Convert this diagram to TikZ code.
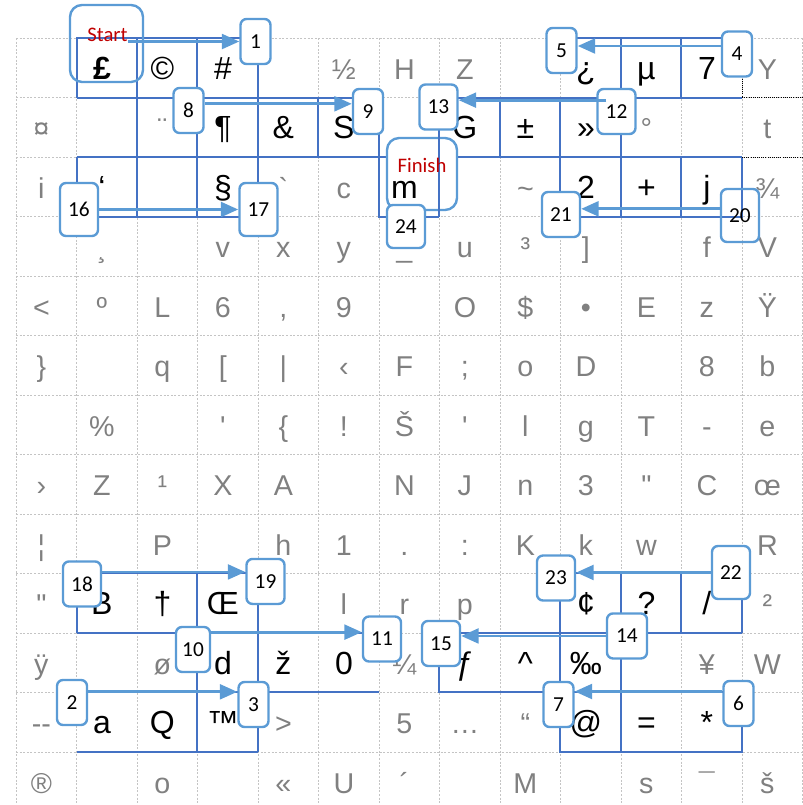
\documentclass[tikz,border=0pt]{standalone}
\usepackage{fontspec}
\setmainfont{Liberation Sans}
\newfontfamily\calfont{Carlito}
\usetikzlibrary{arrows.meta}
\definecolor{cellblue}{HTML}{4472C4}
\definecolor{boxblue}{HTML}{5B9BD5}
\definecolor{startred}{HTML}{C00000}
\definecolor{lightgrid}{HTML}{C4C4C4}
\definecolor{greytext}{HTML}{808080}
\def\comma{,}

\tikzset{
  gridline/.style={lightgrid,line width=0.6pt,dash pattern=on 1.5pt off 1.2pt},
  blockline/.style={cellblue,line width=1.5pt},
  numbox/.style={draw=boxblue,line width=1.8pt,rounded corners=4.5pt,fill=white,minimum width=22.5pt,minimum height=33.75pt,inner sep=0pt,font=\calfont\fontsize{16}{16}\selectfont},
  widebox/.style={numbox,minimum width=28.5pt},
  tallbox/.style={widebox,minimum height=39.75pt},
  endbox/.style={draw=boxblue,line width=1.8pt,rounded corners=9pt,inner sep=0pt},
  flow/.style={boxblue,line width=2.2pt,-{Triangle[length=13pt,width=11pt]}},
  greychar/.style={greytext,anchor=base,inner sep=0pt,font=\fontsize{21.5}{21.5}\selectfont},
  blackchar/.style={greychar,black,font=\fontsize{24}{24}\selectfont},
  redlabel/.style={startred,inner sep=0pt,font=\calfont\fontsize{15.5}{15.5}\selectfont}
}

\begin{document}
\begin{tikzpicture}[x=45.375pt,y=-44.625pt]
\useasboundingbox (-0.2645,-0.6387) rectangle (12.992,12.891);
\foreach \i in {0,...,13} {
  \draw[gridline] (\i,0) -- (\i,13);
  \draw[gridline] (0,\i) -- (13,\i);
}

\draw[blockline] (1,1) -- (1,0) -- (4,0);
\draw[blockline] (1,1) -- (6,1);
\draw[blockline] (2,0) -- (2,3);
\draw[blockline] (3,0) -- (3,3);
\draw[blockline] (4,0) -- (4,3);
\draw[blockline] (5,1) -- (5,2);
\draw[blockline] (6,1) -- (6,3) -- (7,3);
\draw[blockline] (1,2) -- (12,2);
\draw[blockline] (1,2) -- (1,3) -- (4,3);
\draw[blockline] (9,0) -- (12,0);
\draw[blockline] (7,1) -- (12,1);
\draw[blockline] (10,0) -- (10,3);
\draw[blockline] (11,0) -- (11,1);
\draw[blockline] (11,2) -- (11,3);
\draw[blockline] (8,1) -- (8,2);
\draw[blockline] (9,1) -- (9,3) -- (12,3) -- (12,2);
\draw[blockline] (1,10) -- (1,9) -- (4,9);
\draw[blockline] (1,10) -- (6,10);
\draw[blockline] (3,9) -- (3,12);
\draw[blockline] (4,9) -- (4,12);
\draw[blockline] (1,11) -- (6,11);
\draw[blockline] (1,12) -- (4,12);
\draw[blockline] (9,9) -- (12,9) -- (12,10);
\draw[blockline] (9,9) -- (9,12) -- (12,12) -- (12,11);
\draw[blockline] (10,9) -- (10,12);
\draw[blockline] (11,9) -- (11,10);
\draw[blockline] (7,10) -- (12,10);
\draw[blockline] (7,10) -- (7,11) -- (12,11);
\draw[densely dotted,line width=0.6pt] (12,0) -- (12,1) -- (13,1);
\draw[densely dotted,line width=0.6pt] (12,2) -- (13,2);

\node[endbox,fill=white,minimum width=52.5pt,minimum height=54pt] (finishbox) at (6.711,2.286) {};
\draw[blockline] (7,3) -- (7,1);
\node[redlabel] (finishtxt) at (6.711,2.14) {Finish};

\foreach \ro/\co/\sym in {0/5/½,0/6/H,0/7/Z,0/12/Y,
  1/0/¤,1/2/¨,1/10/°,1/12/t,
  2/0/i,2/4/\textasciigrave,2/5/c,2/8/\textasciitilde,2/12/¾,
  3/1/¸,3/3/v,3/4/x,3/5/y,3/6/\_,3/7/u,3/8/³,3/9/],3/11/f,3/12/V,
  4/0/<,4/1/º,4/2/L,4/3/6,4/4/\comma,4/5/9,4/7/O,4/8/\$,4/9/•,4/10/E,4/11/z,4/12/Ÿ,
  5/0/\},5/2/q,5/3/[,5/4/|,5/5/‹,5/6/F,5/7/;,5/8/o,5/9/D,5/11/8,5/12/b,
  6/1/\%,6/3/\textquotesingle,6/4/\{,6/5/!,6/6/Š,6/7/\textquotesingle,6/8/l,6/9/g,6/10/T,6/11/-,6/12/e,
  7/0/›,7/1/Z,7/2/¹,7/3/X,7/4/A,7/6/N,7/7/J,7/8/n,7/9/3,7/10/\textquotedbl,7/11/C,7/12/œ,
  8/0/¦,8/2/P,8/4/h,8/5/1,8/6/.,8/7/:,8/8/K,8/9/k,8/10/w,8/12/R,
  9/0/\textquotedbl,9/5/l,9/6/r,9/7/p,9/12/²,
  10/0/ÿ,10/2/ø,10/6/¼,10/11/¥,10/12/W,
  11/0/{-}{-},11/4/>,11/6/5,11/7/…,11/8/“,
  12/0/®,12/2/o,12/4/«,12/5/U,12/6/´,12/8/M,12/10/s,12/11/¯,12/12/š}
  \node[greychar] (g-\ro-\co) at (\co+0.42,\ro+0.69) {\sym};

\foreach \ro/\co/\sym in {0/1/\bfseries £,0/2/©,0/3/\#,0/9/¿,0/10/µ,0/11/7,
  1/3/¶,1/4/\&,1/5/S,1/7/G,1/8/±,1/9/»,
  2/1/‘,2/3/§,2/6/m,2/9/2,2/10/+,2/11/j,
  9/1/B,9/2/†,9/3/Œ,9/9/¢,9/10/?,9/11/\slash,
  10/3/d,10/4/ž,10/5/0,10/7/ƒ,10/8/\textasciicircum,10/9/‰,
  11/1/a,11/2/Q,11/3/™,11/9/@,11/10/=,11/11/*}
  \node[blackchar] (b-\ro-\co) at (\co+0.42,\ro+0.69) {\sym};

\node[endbox,minimum width=54.75pt,minimum height=57.75pt] (startbox) at (1.496,0.092) {};
\node[redlabel] (starttxt) at (1.512,-0.05) {Start};

\node[numbox] (n1) at (3.959,0.059) {1};
\node[numbox] (n2) at (0.926,11.168) {2};
\node[numbox] (n3) at (3.926,11.202) {3};
\node[numbox] (n4) at (11.917,0.269) {4};
\node[numbox] (n5) at (9.017,0.210) {5};
\node[numbox] (n6) at (11.942,11.185) {6};
\node[numbox] (n7) at (8.967,11.202) {7};
\node[numbox] (n8) at (2.851,1.218) {8};
\node[numbox] (n9) at (5.818,1.235) {9};
\node[widebox,minimum width=25.5pt] (n10) at (2.926,10.277) {10};
\node[widebox] (n11) at (6.050,10.101) {11};
\node[widebox] (n12) at (9.926,1.235) {12};
\node[widebox] (n13) at (6.983,1.160) {13};
\node[widebox,minimum width=30pt] (n14) at (10.099,10.050) {14};
\node[widebox] (n15) at (7.025,10.176) {15};
\node[tallbox] (n16) at (1.041,2.882) {16};
\node[tallbox] (n17) at (4.008,2.882) {17};
\node[widebox] (n18) at (1.091,9.176) {18};
\node[widebox] (n19) at (4.124,9.134) {19};
\node[tallbox,fill=none] (n20) at (11.967,2.983) {20};
\node[widebox] (n21) at (9.008,2.966) {21};
\node[tallbox] (n22) at (11.818,8.983) {22};
\node[widebox] (n23) at (8.926,9.076) {23};
\node[widebox,minimum height=32.25pt] (n24) at (6.446,3.168) {24};

\draw[flow] (starttxt.east |- n1.west) -- (n1.west);
\draw[flow] ([yshift=8pt]n2.east) -- ([yshift=8pt]n2.east -| n3.west);
\draw[flow] ([yshift=6pt]n4.west) -- ([yshift=6pt]n4.west -| n5.east);
\draw[flow] ([yshift=9pt]n6.west) -- ([yshift=9pt]n6.west -| n7.east);
\draw[flow] ([yshift=5pt]n8.east) -- ([yshift=5pt]n8.east -| n9.west);
\draw[flow] ([yshift=13pt]n10.east) -- ([yshift=13pt]n10.east -| n11.west);
\draw[flow,shorten <=-7.5pt] ([yshift=8.5pt]n12.west) -- ([yshift=8.5pt]n12.west -| n13.east);
\draw[flow] (n14.west) -- (n14.west -| n15.east);
\draw[flow] (n16.east) -- (n16.east -| n17.west);
\draw[flow] ([yshift=9pt]n18.east) -- ([yshift=9pt]n18.east -| n19.west);
\draw[flow] ([yshift=5pt]n20.west) -- ([yshift=5pt]n20.west -| n21.east);
\draw[flow] (n22.west) -- (n22.west -| n23.east);
\end{tikzpicture}
\end{document}
